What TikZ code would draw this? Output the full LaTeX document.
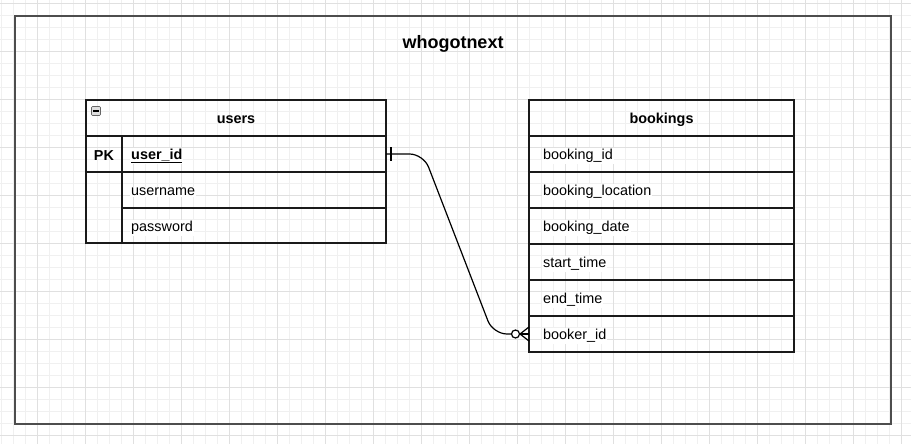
\documentclass[tikz,border=0pt]{standalone}
\usepackage{fontspec}
\setmainfont{Liberation Sans}
\usetikzlibrary{calc}
\definecolor{gridminor}{HTML}{F0F0F0}
\definecolor{gridmajor}{HTML}{E0E0E0}
\definecolor{frame}{HTML}{4D4D4D}
\definecolor{tbl}{HTML}{1A1A1A}
\tikzset{
  cell/.style={draw=tbl, line width=1.3pt, inner sep=0pt, outer sep=0pt, anchor=north west},
  fieldtxt/.style={anchor=west, inner sep=1pt, fill=white, font=\fontsize{14.4}{17}\selectfont},
  headtxt/.style={inner sep=0pt, font=\fontsize{14.4}{17}\selectfont\bfseries},
  conn/.style={draw=black, line width=1.2pt, rounded corners=14pt},
  endmark/.style={draw=black, line width=1.2pt}
}
\begin{document}
\begin{tikzpicture}[x=1pt,y=-1pt]
\useasboundingbox (0,0) rectangle (911,444);
\fill[white] (0,0) rectangle (911,444);
% grid
\foreach \x in {1,13,...,911} \draw[gridminor, line width=0.8pt] (\x,0) -- (\x,444);
\foreach \y in {3,15,...,444} \draw[gridminor, line width=0.8pt] (0,\y) -- (911,\y);
\foreach \x in {37,85,...,911} \draw[gridmajor, line width=0.9pt] (\x,0) -- (\x,444);
\foreach \y in {3,51,...,444} \draw[gridmajor, line width=0.9pt] (0,\y) -- (911,\y);
% outer frame
\node[draw=frame, line width=1.6pt, minimum width=876pt, minimum height=408pt, anchor=north west, inner sep=0pt] (frame) at (14,15) {};
\node[font=\fontsize{18}{21}\selectfont\bfseries] (title) at (453,43.5) {whogotnext};

% users table
\node[cell, minimum width=300pt, minimum height=36pt] (uhead) at (86,100) {};
\node[headtxt] (uheadt) at ($(uhead.center)+(0,2)$) {users};
\node[cell, minimum width=300pt, minimum height=36pt] (urow1) at (86,136) {};
\node[cell, minimum width=36pt, minimum height=107pt] (upk) at (86,136) {};
\node[cell, minimum width=264pt, minimum height=36pt, line width=1.6pt] (urow2) at (122,172) {};
\node[cell, minimum width=264pt, minimum height=35pt] (urow3) at (122,208) {};
\node[headtxt] (pkt) at (104,156) {PK};
\node[fieldtxt, font=\fontsize{14.4}{17}\selectfont\bfseries] (uidt) at (130,156) {\underline{user\_id}};
\node[fieldtxt] (unamet) at (130,192) {username};
\node[fieldtxt] (upwdt) at (130,228) {password};
% collapse icon
\node[draw=gray!80!black, fill=gray!25, line width=0.7pt, minimum size=9pt, inner sep=0pt, rounded corners=1pt] (ucol) at (96,111) {};
\draw[black, line width=1pt] ($(ucol.west)+(2,0)$) -- ($(ucol.east)+(-2,0)$);

% bookings table
\node[cell, minimum width=265pt, minimum height=36pt] (bhead) at (529,100) {};
\node[headtxt] (bheadt) at ($(bhead.center)+(0,2)$) {bookings};
\node[cell, minimum width=265pt, minimum height=36pt] (brow1) at (529,136) {};
\node[cell, minimum width=265pt, minimum height=36pt] (brow2) at (529,172) {};
\node[cell, minimum width=265pt, minimum height=36pt] (brow3) at (529,208) {};
\node[cell, minimum width=265pt, minimum height=36pt] (brow4) at (529,244) {};
\node[cell, minimum width=265pt, minimum height=36pt] (brow5) at (529,280) {};
\node[cell, minimum width=265pt, minimum height=36pt] (brow6) at (529,316) {};
\node[fieldtxt] (b1t) at (542,156) {booking\_id};
\node[fieldtxt] (b2t) at (542,192) {booking\_location};
\node[fieldtxt] (b3t) at (542,228) {booking\_date};
\node[fieldtxt] (b4t) at (542,264) {start\_time};
\node[fieldtxt] (b5t) at (542,300) {end\_time};
\node[fieldtxt] (b6t) at (542,336) {booker\_id};

% connector
\draw[conn] (urow1.east) -- ++(37.5,0) -- ($(brow6.west)+(-36,0)$) -- ($(brow6.west)+(-18,0)$);
\draw[endmark] ($(brow6.west)+(-18,0)$) -- (brow6.west);
% one marker
\draw[endmark] ($(urow1.east)+(5,-7)$) -- ($(urow1.east)+(5,7)$);
% zero-to-many marker
\draw[endmark] ($(brow6.west)+(-9,0)$) -- ($(brow6.west)+(0,-7)$);
\draw[endmark] ($(brow6.west)+(-9,0)$) -- ($(brow6.west)+(0,7)$);
\draw[endmark, fill=white] ($(brow6.west)+(-13.5,0)$) circle (4pt);
\end{tikzpicture}
\end{document}
